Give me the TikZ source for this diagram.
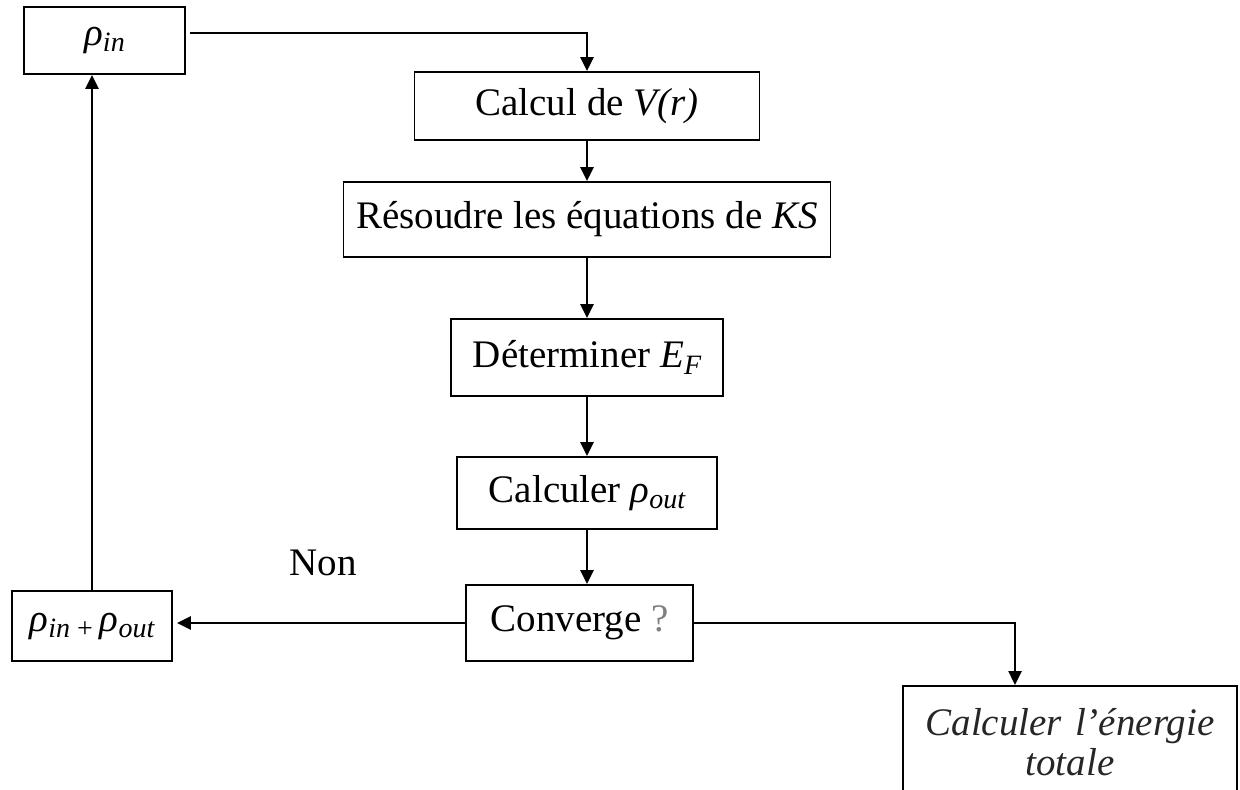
\documentclass[tikz,border=0pt]{standalone}
\usepackage{fontspec}
\setmainfont{Liberation Serif}
\usetikzlibrary{arrows.meta}
\newcommand\sbs[1]{\raisebox{-0.35ex}{\fontsize{14}{14}\selectfont #1}}

\begin{document}
\begin{tikzpicture}[x=0.5pt, y=-0.5pt]
        \tikzset{ box/.style ={draw=black, line width=0.9pt, inner sep=0pt, text=black, font=\fontsize{19.5}{20}\selectfont } }
        \tikzset{ lbl/.style ={inner sep=0pt, text=black, font=\fontsize{19.5}{20}\selectfont } }
        \tikzset{ lnk/.style ={-{Triangle[length=7pt,width=6.5pt]}, line width=1.2pt } }

        \newcommand\cx{587}

        \useasboundingbox (0,0) rectangle (1240,789);

        \node[box, minimum width=80.5pt, minimum height=33.5pt] (rin) at (104.5, 40.5) {\textit{ρ\sbs{in}}};

        \node[box, minimum width=172.5pt, minimum height=34pt] (calc) at (\cx, 106) {Calcul de \textit{V(r)}};
        \node[box, minimum width=243.5pt, minimum height=37.5pt] (ks) at (\cx, 219.5) {Résoudre les équations de \textit{KS}};
        \node[box, minimum width=136pt, minimum height=38.5pt] (ef) at (\cx, 357.5) {Déterminer \textit{E\sbs{F}}};
        \node[box, minimum width=130pt, minimum height=36pt] (rout) at (\cx, 493) {Calculer \textit{ρ\sbs{out}}};
        \node[box, minimum width=113.5pt, minimum height=38pt] (conv) at (\cx-7.5, 623) {Converge {\color{gray}?}};

        \node[box, minimum width=80pt, minimum height=35pt] (mix) at (92, 626) {\textit{ρ\sbs{in}}\sbs{ + }\textit{ρ\sbs{out}}};
        \node[lbl] (non) at (323, 563) {Non};

        \node[box, anchor=north, text width=167pt, inner xsep=0pt, inner ysep=11pt, align=center, text=black!85] (etot) at (1070, 685) {\itshape Calculer l’énergie\\ totale};

        \draw[lnk] ([shift={(4,-7.5)}]rin.east) -| (calc.north);
        \draw[lnk] (calc.south) -- (ks.north);
        \draw[lnk] (ks.south) -- (ef.north);
        \draw[lnk] (ef.south) -- (rout.north);
        \draw[lnk] (rout.south) -- (rout.south |- conv.north);
        \draw[lnk] (conv.west) -- ([xshift=2pt]conv.west -| mix.east);
        \draw[lnk] (mix.north) -- (mix.north |- rin.south);
        \draw[lnk] (conv.east) -| ([shift={(-55,0)}]etot.north);
      \end{tikzpicture}
\end{document}
